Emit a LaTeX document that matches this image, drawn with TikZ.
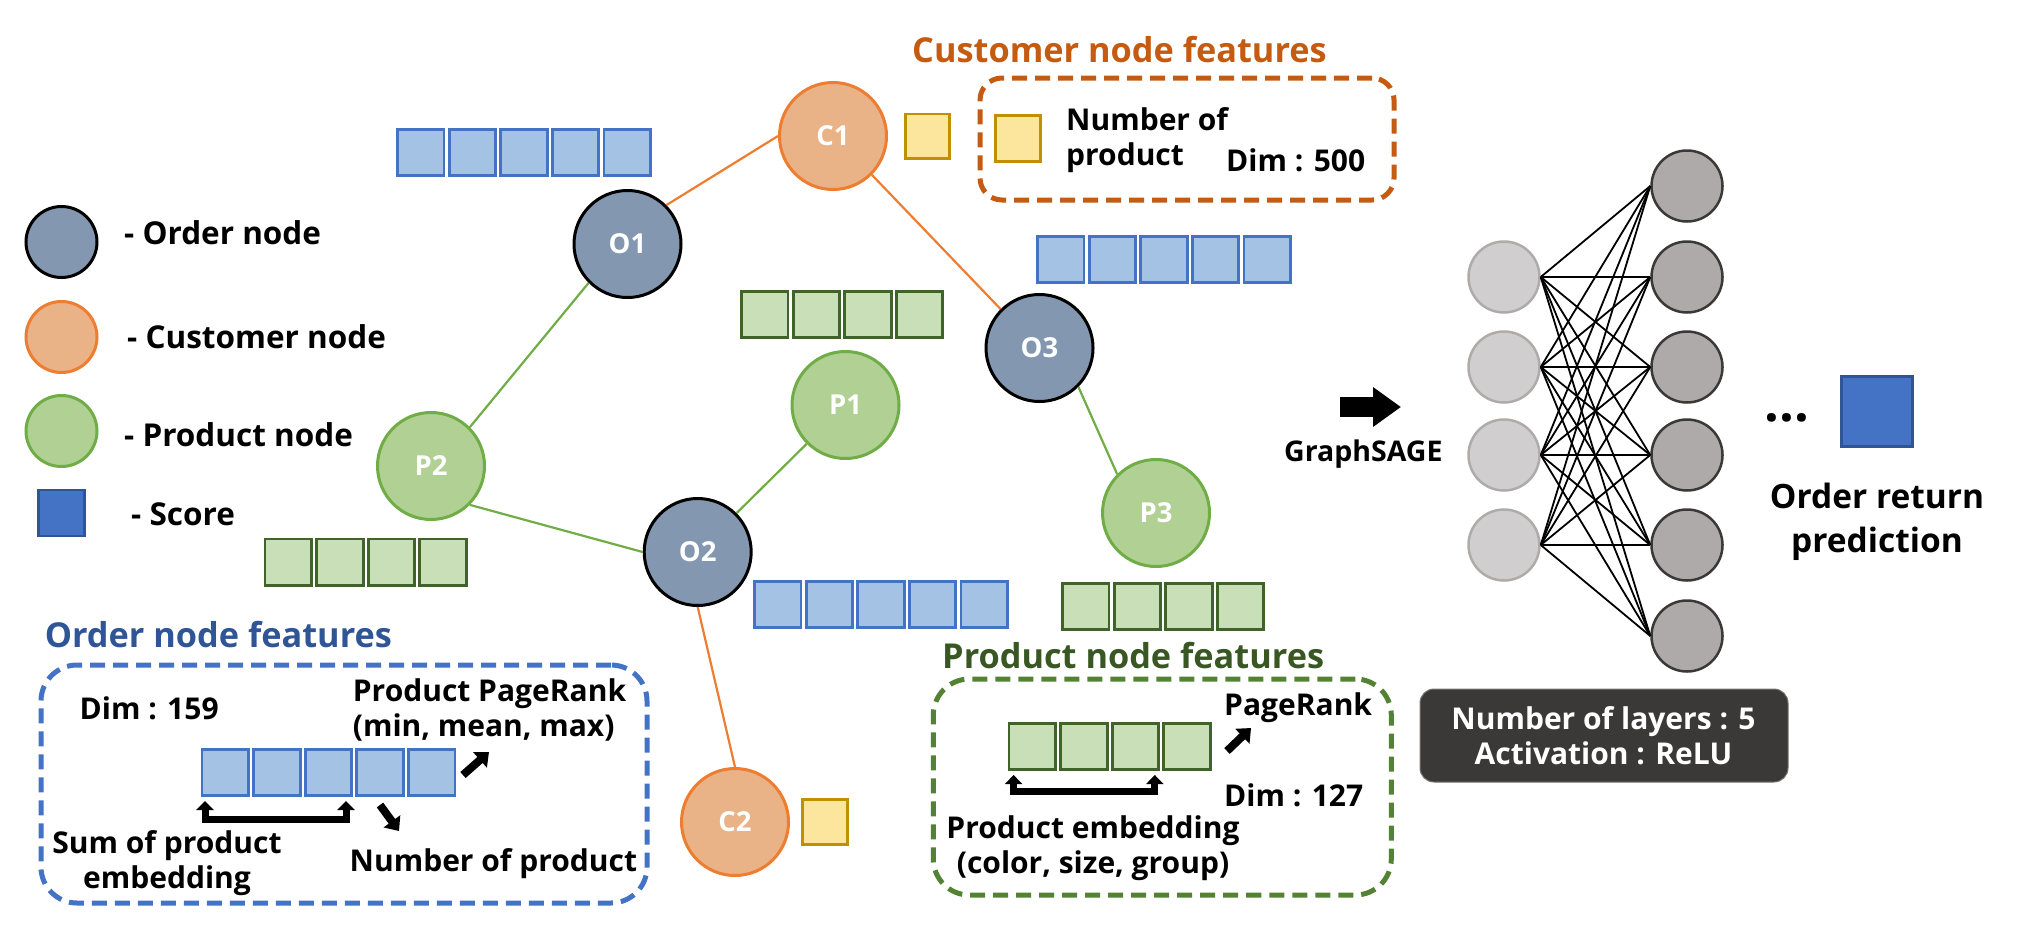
\documentclass[tikz,border=0pt]{standalone}
\usepackage{fontspec}
\setmainfont{Open Sans}
\newfontfamily\widefont{Open Sans}
\usetikzlibrary{arrows.meta}
\definecolor{ordfill}{HTML}{8497B0}
\definecolor{cusfill}{HTML}{EAB287}
\definecolor{cusline}{HTML}{ED7D31}
\definecolor{prdfill}{HTML}{B0D094}
\definecolor{prdline}{HTML}{70AD47}
\definecolor{bluesq}{HTML}{A4C2E3}
\definecolor{blueline}{HTML}{4472C4}
\definecolor{greensq}{HTML}{C9DFB7}
\definecolor{greenline}{HTML}{3F6328}
\definecolor{yelsq}{HTML}{FCE59C}
\definecolor{yelline}{HTML}{BF9000}
\definecolor{scorefill}{HTML}{4472C4}
\definecolor{scoreline}{HTML}{2F5597}
\definecolor{custitle}{HTML}{C55A11}
\definecolor{ordtitle}{HTML}{2F5597}
\definecolor{prdtitle}{HTML}{385723}
\definecolor{prdbox}{HTML}{548235}
\definecolor{nninfill}{HTML}{D0CECE}
\definecolor{nninline}{HTML}{AFABAB}
\definecolor{nnoutfill}{HTML}{AEAAAA}
\definecolor{nnoutline}{HTML}{3B3838}
\definecolor{nnboxfill}{HTML}{3B3838}
\newcommand\sqbar[4]{\foreach \k in {1,...,#3}{\draw[#4] ({#1+(\k-1)*51.6+2.5},{#2+1.4}) rectangle ++(46.5,46.2);}}
\tikzset{
  gnode/.style={circle, minimum size=107pt, inner sep=0pt, line width=3pt, text=white,
    font=\fontsize{27.5}{32}\selectfont\bfseries},
  ordn/.style={gnode, draw=black, fill=ordfill},
  cusn/.style={gnode, draw=cusline, fill=cusfill},
  prdn/.style={gnode, draw=prdline, fill=prdfill},
  legn/.style={circle, minimum size=71pt, inner sep=0pt, line width=3pt},
  oedge/.style={draw=cusline, line width=2.2pt},
  pedge/.style={draw=prdline, line width=2.2pt},
  lbl/.style={inner sep=0pt, anchor=base west, font=\fontsize{30}{36}\selectfont\bfseries},
  clbl/.style={lbl, anchor=base},
  leglbl/.style={lbl, font=\fontsize{31.5}{38}\selectfont\bfseries},
  ttl/.style={lbl, font=\fontsize{34.3}{42}\selectfont\bfseries},
  widelbl/.style={inner sep=0pt, anchor=base, font=\widefont\fontsize{33.5}{40}\selectfont\bfseries},
  boxlbl/.style={inner sep=0pt, anchor=base, text=white, font=\widefont\fontsize{30}{36}\selectfont\bfseries},
  bsq/.style={draw=blueline, fill=bluesq, line width=2.8pt},
  gsq/.style={draw=greenline, fill=greensq, line width=2.8pt},
  ysq/.style={draw=yelline, fill=yelsq, line width=2.8pt},
  fbox/.style={inner sep=0pt, line width=5pt, dash pattern=on 15pt off 8pt},
  blk/.style={line width=8pt, -{Triangle[length=12pt,width=20pt]}},
  brk/.style={line width=7pt, line join=miter, {Triangle[length=9pt,width=17pt]}-{Triangle[length=9pt,width=17pt]}},
  nnl/.style={circle, minimum size=71pt, inner sep=0pt, line width=2.5pt, draw=nninline, fill=nninfill},
  nnr/.style={circle, minimum size=71pt, inner sep=0pt, line width=2.5pt, draw=nnoutline, fill=nnoutfill},
  nnedge/.style={line width=1.8pt, draw=black},
}
\begin{document}
\begin{tikzpicture}[x=1pt,y=-1pt]
\useasboundingbox (0,0) rectangle (2020,940);

% ---------- legend ----------
\node[legn, draw=black, fill=ordfill] (lo) at (61.5,242) {};
\node[legn, draw=cusline, fill=cusfill] (lc) at (61.5,337) {};
\node[legn, draw=prdline, fill=prdfill] (lp) at (61.5,431) {};
\node[draw=scoreline, fill=scorefill, line width=2.8pt, minimum width=46pt, minimum height=46pt, inner sep=0pt] (ls) at (61.5,513) {};
\node[leglbl] (tlo) at (124,244.6) {- Order node};
\node[leglbl] (tlc) at (127,348) {- Customer node};
\node[leglbl] (tlp) at (124,446) {- Product node};
\node[leglbl] (tls) at (131,525) {- Score};

% ---------- feature bars ----------
\sqbar{395}{128}{5}{bsq}
\sqbar{1035}{235}{5}{bsq}
\sqbar{752}{580}{5}{bsq}
\sqbar{739}{290}{4}{gsq}
\sqbar{262.5}{537.5}{4}{gsq}
\sqbar{1060}{582}{4}{gsq}
\draw[ysq] (905.4,113.9) rectangle (949.6,158.6);
\draw[ysq] (802.4,799.4) rectangle (847.2,844.6);

% ---------- graph nodes ----------
\node[ordn] (o1) at (627.5,244) {O1};
\node[cusn] (c1) at (833,136) {C1};
\node[ordn] (o3) at (1039.5,348) {O3};
\node[prdn] (p1) at (845.5,405) {P1};
\node[prdn] (p2) at (431,466) {P2};
\node[ordn] (o2) at (697.7,552) {O2};
\node[prdn] (p3) at (1156,513) {P3};
\node[cusn] (c2) at (735,822) {C2};

\draw[oedge] (o1.north east) -- (c1.west);
\draw[oedge] (c1.south east) -- (o3.north west);
\draw[pedge] (o1.south west) -- (p2.north east);
\draw[pedge] (p2.south east) -- (o2.west);
\draw[pedge] (p1.south west) -- (o2.north east);
\draw[pedge] (o3.south east) -- (p3.north west);
\draw[oedge] (o2.south) -- (c2.north);

% ---------- customer features ----------
\node[ttl, text=custitle] (tcus) at (912,62.5) {Customer node features};
\node[fbox, draw=custitle, rounded corners=22pt, minimum width=414pt, minimum height=122pt] (cbox) at (1187,139) {};
\draw[ysq] (995.4,115.4) rectangle (1040.1,161.1);
\node[lbl] (cn1) at (1066,130) {Number of};
\node[lbl] (cn2) at (1066,165) {product};
\node[lbl] (cdim) at (1226,171) {Dim : 500};

% ---------- order features ----------
\node[ttl, text=ordtitle] (tord) at (44.6,647) {Order node features};
\node[fbox, draw=blueline, rounded corners=36pt, minimum width=606pt, minimum height=238pt] (obox) at (344,784) {};
\node[lbl] (odim) at (79.5,719) {Dim : 159};
\sqbar{199.5}{747.7}{5}{bsq}
\node[lbl] (opr1) at (352.7,701.7) {Product PageRank};
\node[lbl] (opr2) at (352.7,736.7) {(min, mean, max)};
\coordinate (oa1) at (463,775);
\coordinate (oa2) at (489,752);
\draw[blk] (oa1) -- (oa2);
\coordinate (ob1) at (380,805);
\coordinate (ob2) at (399,831);
\draw[blk] (ob1) -- (ob2);
\coordinate (obl) at (205,801);
\coordinate (obr) at (346,801);
\draw[brk] (obl) -- ++(0,18) -| (obr);
\node[clbl] (osum1) at (167,853) {Sum of product};
\node[clbl] (osum2) at (167,888) {embedding};
\node[lbl] (onum) at (349.5,871.7) {Number of product};

% ---------- product features ----------
\node[ttl, text=prdtitle] (tprd) at (942,668) {Product node features};
\node[fbox, draw=prdbox, rounded corners=36pt, minimum width=458pt, minimum height=216pt] (pbox) at (1162.3,787) {};
\sqbar{1006.5}{721.7}{4}{gsq}
\node[lbl] (ppr) at (1224,715) {PageRank};
\coordinate (pa1) at (1227,751);
\coordinate (pa2) at (1251,728);
\draw[blk] (pa1) -- (pa2);
\coordinate (pbl) at (1013.6,775);
\coordinate (pbr) at (1154.8,775);
\draw[brk] (pbl) -- ++(0,16) -| (pbr);
\node[lbl] (pdim) at (1224,806.7) {Dim : 127};
\node[clbl] (pemb1) at (1093,838) {Product embedding};
\node[clbl] (pemb2) at (1093,873) {(color, size, group)};

% ---------- GraphSAGE ----------
\coordinate (gs1) at (1340,407);
\coordinate (gs2) at (1401,407);
\draw[line width=20pt, -{Triangle[length=28pt,width=38pt]}] (gs1) -- (gs2);
\node[inner sep=0pt, anchor=base west, font=\widefont\fontsize{28.5}{34}\selectfont\bfseries] (tgs) at (1284,461.7) {GraphSAGE};

% ---------- neural network ----------
\foreach \i/\y in {1/277,2/367,3/455,4/545} \node[nnl] (a\i) at (1504,\y) {};
\foreach \j/\y in {1/186,2/277,3/367,4/455,5/545,6/636} \node[nnr] (b\j) at (1687,\y) {};
\foreach \i in {1,...,4} \foreach \j in {1,...,6} \draw[nnedge] (a\i.east) -- (b\j.west);

\node[fill=nnboxfill, draw=nnboxfill!70!white, line width=1pt, rounded corners=14pt, minimum width=368pt, minimum height=93pt, inner sep=0pt] (nnbox) at (1604,735.5) {};
\node[boxlbl] (nb1) at (1603.5,729) {Number of layers : 5};
\node[boxlbl] (nb2) at (1603.5,764) {Activation : ReLU};

\node[inner sep=0pt, anchor=base, font=\widefont\fontsize{52}{60}\selectfont\bfseries] (dots) at (1787,421) {...};
\node[draw=scoreline, fill=scorefill, line width=2.8pt, minimum width=71pt, minimum height=70pt, inner sep=0pt] (outsq) at (1877,411.5) {};
\node[widelbl] (ort1) at (1877,508.6) {Order return};
\node[widelbl] (ort2) at (1877,552) {prediction};
\end{tikzpicture}
\end{document}
